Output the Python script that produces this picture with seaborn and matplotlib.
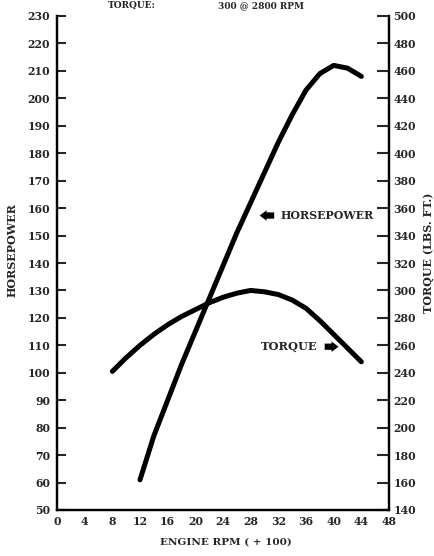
import matplotlib
matplotlib.use("Agg")
import matplotlib.pyplot as plt
import seaborn as sns
import pandas as pd

# ---- data ----
rpm_hp = [12, 14, 16, 18, 20, 22, 24, 26, 28, 30, 32, 34, 36, 38, 40, 42, 44]
horsepower = [61, 77, 90, 103, 115, 127, 139, 151, 162, 173, 184, 194, 203, 209, 212, 211, 208]

rpm_tq = [8, 10, 12, 14, 16, 18, 20, 22, 24, 26, 28, 30, 32, 34, 36, 38, 40, 42, 44]
torque = [241, 251, 260, 268, 275, 281, 286, 291, 295, 298, 300, 299, 297, 293, 287, 278, 268, 258, 248]

x_ticks = list(range(0, 49, 4))
hp_ticks = list(range(50, 231, 10))
tq_ticks = list(range(140, 501, 20))

x_label = "ENGINE RPM ( + 100)"
hp_label = "HORSEPOWER"
tq_label = "TORQUE (LBS. FT.)"
top_left_text = "TORQUE:"
top_right_text = "300 @ 2800 RPM"

hp_df = pd.DataFrame({"rpm": rpm_hp, "hp": horsepower})
tq_df = pd.DataFrame({"rpm": rpm_tq, "tq": torque})

sns.set_style("white")
plt.rcParams["font.family"] = ["DejaVu Serif", "DejaVu Sans"]
plt.rcParams["font.weight"] = "bold"

fig = plt.figure(figsize=(4.34, 5.56), dpi=100)
ax = fig.add_axes([57 / 434, 1 - 510 / 556, (389 - 57) / 434, (510 - 16) / 556])
ax2 = ax.twinx()

sns.lineplot(data=hp_df, x="rpm", y="hp", ax=ax, color="black", linewidth=3.6,
             solid_capstyle="round", solid_joinstyle="round", legend=False)
sns.lineplot(data=tq_df, x="rpm", y="tq", ax=ax2, color="black", linewidth=3.6,
             solid_capstyle="round", solid_joinstyle="round", legend=False)

ax.set_xlim(0, 48)
ax.set_ylim(50, 230)
ax2.set_ylim(140, 500)
ax.set_xticks(x_ticks)
ax.set_yticks(hp_ticks)
ax2.set_yticks(tq_ticks)

for a in (ax, ax2):
    for s in a.spines.values():
        s.set_linewidth(1.6)
        s.set_color("black")
    a.spines["top"].set_visible(False)
    a.spines["left"].set_visible(True)
    a.spines["right"].set_visible(True)
    a.spines["bottom"].set_visible(True)

ax.tick_params(axis="y", direction="in", length=6.5, width=1.5, labelsize=7.8, pad=5)
ax.tick_params(axis="x", direction="in", length=7, width=1.5, labelsize=7.8, pad=4)
ax2.tick_params(axis="y", direction="in", length=8.5, width=1.5, labelsize=7.8, pad=3)
for lab in ax.get_xticklabels() + ax.get_yticklabels() + ax2.get_yticklabels():
    lab.set_fontweight("bold")

ax.set_xlabel("")
ax.set_ylabel("")
ax2.set_ylabel("")
fig.text(0.52, 1 - 542 / 556, x_label, ha="center", va="center", fontsize=7.5, fontweight="bold")
fig.text(12 / 434, 1 - 250 / 556, hp_label, ha="center", va="center", rotation=90,
         fontsize=8, fontweight="bold")
fig.text(428 / 434, 1 - 253 / 556, tq_label, ha="center", va="center", rotation=90,
         fontsize=8, fontweight="bold")

fig.text(108 / 434, 1 - 1 / 556, top_left_text, ha="left", va="top", fontsize=6.5, fontweight="bold")
fig.text(218 / 434, 1 - 1 / 556, top_right_text, ha="left", va="top", fontsize=6.5, fontweight="bold")

arrow_style = "simple,head_width=0.75,head_length=0.5,tail_width=0.45"
arrow_props = dict(arrowstyle=arrow_style, color="black", lw=0, shrinkA=0, shrinkB=0)
# horsepower label
ax.annotate("", xy=(29.3, 157.3), xytext=(31.4, 157.3), arrowprops=arrow_props)
ax.text(32.3, 157.3, "HORSEPOWER", ha="left", va="center", fontsize=7.9, fontweight="bold")
# torque label
ax.text(29.5, 109.5, "TORQUE", ha="left", va="center", fontsize=8.2, fontweight="bold")
ax.annotate("", xy=(40.7, 109.5), xytext=(38.7, 109.5), arrowprops=arrow_props)

fig.savefig("out.png", dpi=100, facecolor="white")
